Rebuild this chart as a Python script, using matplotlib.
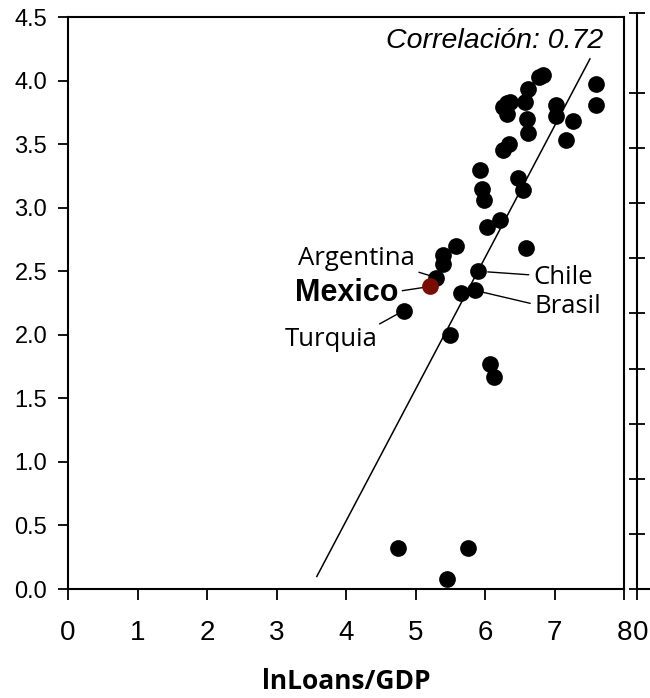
import matplotlib
matplotlib.use('Agg')
import matplotlib.pyplot as plt
import matplotlib.transforms as mtransforms

# lnLoans/GDP (x) vs. y per country
loans_x = [6.77, 6.83, 7.59, 7.59, 6.62, 6.57, 6.32, 6.26, 6.36, 6.32,
           6.60, 6.62, 7.02, 7.02, 7.26, 7.17, 6.35, 6.26, 5.93, 6.48,
           5.95, 5.98, 6.54, 6.22, 6.03, 6.59, 5.90, 5.58, 5.39, 5.39,
           5.30, 4.83, 5.65, 5.85, 5.49, 6.07, 6.13, 4.75, 5.76, 5.45]
y_vals = [4.03, 4.04, 3.97, 3.81, 3.93, 3.83, 3.82, 3.79, 3.83, 3.74,
          3.70, 3.59, 3.81, 3.72, 3.68, 3.53, 3.50, 3.45, 3.30, 3.23,
          3.15, 3.06, 3.14, 2.90, 2.85, 2.68, 2.50, 2.70, 2.63, 2.56,
          2.45, 2.19, 2.33, 2.35, 2.00, 1.77, 1.67, 0.32, 0.32, 0.08]
mexico = (5.21, 2.38)

# fitted line
trend_slope = 1.036
trend_icpt = -3.61
trend_range = [3.58, 7.51]
corr_text = 'Correlación: 0.72'

# labelled countries: name -> point
labelled = {
    'Argentina': (5.30, 2.45),
    'Turquia': (4.83, 2.19),
    'Chile': (5.90, 2.50),
    'Brasil': (5.85, 2.35),
}

x_ticks = [0, 1, 2, 3, 4, 5, 6, 7, 8]
y_ticks = [0.0, 0.5, 1.0, 1.5, 2.0, 2.5, 3.0, 3.5, 4.0, 4.5]

plt.rcParams['font.family'] = ['Liberation Sans', 'DejaVu Sans']

fig = plt.figure(figsize=(6.5, 6.98), dpi=100)
W, H = 650.0, 698.0
ax = fig.add_axes([68 / W, (H - 589) / H, (624 - 68) / W, (589 - 17) / H])

ax.scatter(loans_x, y_vals, s=145, color='black', zorder=3, linewidths=0)
ax.scatter([mexico[0]], [mexico[1]], s=145, color='#7a0d02', zorder=4,
           linewidths=0)
ax.plot(trend_range, [trend_slope * v + trend_icpt for v in trend_range],
        color='black', lw=1.1, zorder=2)

ax.set_xlim(0, 8)
ax.set_ylim(0, 4.5)
ax.set_xticks(x_ticks)
ax.set_yticks(y_ticks)
ax.set_xticklabels([str(t) for t in x_ticks])
ax.set_yticklabels(['%.1f' % t for t in y_ticks])
ax.tick_params(axis='x', direction='out', length=8, width=1.3,
               labelsize=20, pad=14)
ax.tick_params(axis='y', direction='out', length=7, width=1.3,
               labelsize=17, pad=8)
for sp in ax.spines.values():
    sp.set_linewidth(1.5)

ax.set_xlabel('lnLoans/GDP', fontsize=19, fontweight='bold',
              family=['Open Sans', 'DejaVu Sans'], labelpad=16)

ax.text(7.70, 4.31, corr_text, ha='right', va='center', fontsize=20.5,
        style='italic')

lab_font = ['Open Sans', 'DejaVu Sans']
arrow = dict(arrowstyle='-', color='black', lw=1.0, shrinkA=1)

# text positions (layout only)
ax.annotate('Argentina', xy=labelled['Argentina'], xytext=(4.99, 2.60),
            ha='right', va='center', fontsize=18.5, family=lab_font,
            arrowprops=dict(arrow, relpos=(1.0, 0.0), shrinkB=5))
ax.annotate('Mexico', xy=mexico, xytext=(4.75, 2.33),
            ha='right', va='center', fontsize=22, fontweight='bold',
            arrowprops=dict(arrow, relpos=(1.0, 0.55), shrinkB=5))
ax.annotate('Turquia', xy=labelled['Turquia'], xytext=(4.46, 1.96),
            ha='right', va='center', fontsize=18.5, family=lab_font,
            arrowprops=dict(arrow, relpos=(0.95, 1.0), shrinkB=5))
ax.annotate('Chile', xy=labelled['Chile'], xytext=(6.69, 2.45),
            ha='left', va='center', fontsize=18.5, family=lab_font,
            arrowprops=dict(arrow, relpos=(0.0, 0.6), shrinkB=7))
ax.annotate('Brasil', xy=labelled['Brasil'], xytext=(6.71, 2.22),
            ha='left', va='center', fontsize=18.5, family=lab_font,
            arrowprops=dict(arrow, relpos=(0.0, 0.6), shrinkB=3))

# edge of the neighbouring panel, cut off at the right border
ax2 = fig.add_axes([637 / W, (H - 589) / H, 0.3, (589 - 13) / H])
ax2.set_ylim(0, 10.45)
ax2.set_yticks(list(range(10)) + [10.45])
ax2.set_yticklabels([])
ax2.set_xlim(0, 1)
ax2.set_xticks([0])
ax2.set_xticklabels(['0'])
ax2.tick_params(axis='y', direction='inout', length=12, width=1.3)
ax2.tick_params(axis='x', direction='out', length=8, width=1.3,
                labelsize=20, pad=14)
# nudge the lone "0" a little right, as in the source
shift = mtransforms.ScaledTranslation(4 / 100.0, 0, fig.dpi_scale_trans)
for lbl in ax2.get_xticklabels():
    lbl.set_transform(lbl.get_transform() + shift)
ax2.spines['top'].set_visible(False)
ax2.spines['right'].set_visible(False)
ax2.spines['left'].set_linewidth(1.5)
ax2.spines['bottom'].set_linewidth(1.5)
ax2.patch.set_visible(False)

fig.savefig('out.png', dpi=100)
